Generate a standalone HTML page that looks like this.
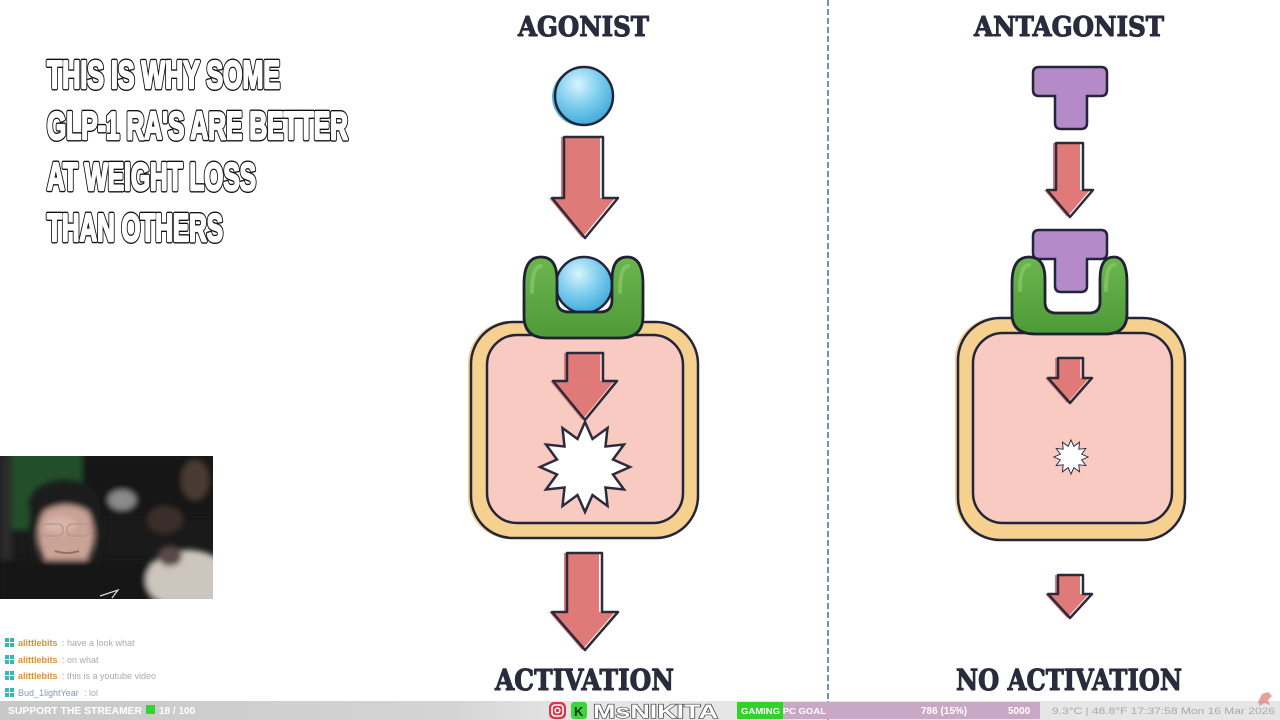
<!DOCTYPE html>
<html><head><meta charset="utf-8"><style>
html,body{margin:0;padding:0;background:#fff;width:1280px;height:720px;overflow:hidden}
svg{display:block}
</style></head><body>
<svg width="1280" height="720" viewBox="0 0 1280 720" xmlns="http://www.w3.org/2000/svg">
<defs>
<radialGradient id="ball" cx="0.4" cy="0.3" r="0.75">
<stop offset="0" stop-color="#d8f4fd"/><stop offset="0.5" stop-color="#7dcdee"/><stop offset="1" stop-color="#3aa6d6"/>
</radialGradient>
<linearGradient id="grn" x1="0" y1="0" x2="0" y2="1">
<stop offset="0" stop-color="#6cb64e"/><stop offset="1" stop-color="#4d9a38"/>
</linearGradient>
<linearGradient id="bar" x1="0" y1="0" x2="1" y2="0">
<stop offset="0" stop-color="#c8c8c8"/><stop offset="0.35" stop-color="#d4d4d4"/><stop offset="0.45" stop-color="#e6e6e6"/><stop offset="1" stop-color="#e6e6e6"/>
</linearGradient>
<filter id="blur" x="-10%" y="-10%" width="120%" height="120%"><feGaussianBlur stdDeviation="3"/></filter>
<clipPath id="cam"><rect x="0" y="456" width="213" height="143"/></clipPath>
</defs>

<!-- divider -->
<line x1="828" y1="0" x2="828" y2="701" stroke="#6e93b3" stroke-width="2" stroke-dasharray="6,3"/>

<!-- left headline: black outline layer -->
<g font-family="Liberation Sans, DejaVu Sans, sans-serif" font-weight="bold" font-size="39" fill="#111" stroke="#111" stroke-width="5" stroke-linejoin="round">
<text x="47" y="88" textLength="233" lengthAdjust="spacingAndGlyphs">THIS IS WHY SOME</text>
<text x="47" y="139" textLength="301" lengthAdjust="spacingAndGlyphs">GLP-1 RA'S ARE BETTER</text>
<text x="47" y="190" textLength="209" lengthAdjust="spacingAndGlyphs">AT WEIGHT LOSS</text>
<text x="47" y="241" textLength="176" lengthAdjust="spacingAndGlyphs">THAN OTHERS</text>
</g>
<!-- white fill layer -->
<g font-family="Liberation Sans, DejaVu Sans, sans-serif" font-weight="bold" font-size="39" fill="#fff" stroke="#fff" stroke-width="2.3" stroke-linejoin="round">
<text x="47" y="88" textLength="233" lengthAdjust="spacingAndGlyphs">THIS IS WHY SOME</text>
<text x="47" y="139" textLength="301" lengthAdjust="spacingAndGlyphs">GLP-1 RA'S ARE BETTER</text>
<text x="47" y="190" textLength="209" lengthAdjust="spacingAndGlyphs">AT WEIGHT LOSS</text>
<text x="47" y="241" textLength="176" lengthAdjust="spacingAndGlyphs">THAN OTHERS</text>
</g>

<!-- titles -->
<g font-family="DejaVu Serif, Liberation Serif, serif" font-weight="bold" fill="#2b2b3d" stroke="#2b2b3d" stroke-width="1.1" stroke-linejoin="round">
<text x="518" y="36" font-size="27" textLength="131" lengthAdjust="spacingAndGlyphs">AGONIST</text>
<text x="974" y="36" font-size="27" textLength="190" lengthAdjust="spacingAndGlyphs">ANTAGONIST</text>
<text x="495" y="690" font-size="29" textLength="179" lengthAdjust="spacingAndGlyphs">ACTIVATION</text>
<text x="956" y="690" font-size="29" textLength="226" lengthAdjust="spacingAndGlyphs">NO ACTIVATION</text>
</g>

<!-- ===== AGONIST ===== -->
<circle cx="581" cy="97" r="29" fill="#56b6de"/>
<circle cx="584" cy="96" r="29" fill="url(#ball)" stroke="#23263a" stroke-width="2.5"/>
<polygon points="561,137 600,137 600,198 615,198 582,238 549,198 561,198" fill="#e07a78"/>
<polygon points="564,137 603,137 603,198 618,198 585,238 552,198 564,198" fill="none" stroke="#2b2b3b" stroke-width="2.5" stroke-linejoin="round"/>

<rect x="468" y="321" width="229" height="218" rx="42" fill="#f6d08e"/>
<rect x="471" y="322" width="227" height="216" rx="42" fill="none" stroke="#23263a" stroke-width="2.5"/>
<rect x="487" y="335" width="196" height="188" rx="30" fill="#f8cac1" stroke="#23263a" stroke-width="2.5"/>

<circle cx="584" cy="285" r="28" fill="url(#ball)" stroke="#23263a" stroke-width="2.5"/>
<path d="M524 284 Q524 257 541 257 Q557 257 557 280 L557 300 Q557 312 569 312 L600 312 Q612 312 612 300 L612 280 Q612 257 627 257 Q643 257 643 284 L643 316 Q643 338 620 338 L547 338 Q524 338 524 316 Z" fill="url(#grn)" stroke="#1f2233" stroke-width="2.8" stroke-linejoin="round"/>
<path d="M532 292 Q532 266 541 266" fill="none" stroke="#8cc86a" stroke-width="4" stroke-linecap="round" opacity="0.7"/>
<path d="M620 292 Q620 266 628 266" fill="none" stroke="#8cc86a" stroke-width="4" stroke-linecap="round" opacity="0.7"/>

<polygon points="564,353 600,353 600,381 614,381 582,420 550,381 564,381" fill="#e07a78"/>
<polygon points="567,353 603,353 603,381 617,381 585,420 553,381 567,381" fill="none" stroke="#2b2b3b" stroke-width="2.5" stroke-linejoin="round"/>

<polygon id="star" points="585,422 592.5,439 607.5,428 605.5,446.5 624,444.5 613,459.5 630,467 613,474.5 624,489.5 605.5,487.5 607.5,506 592.5,495 585,512 577.5,495 562.5,506 564.5,487.5 546,489.5 557,474.5 540,467 557,459.5 546,444.5 564.5,446.5 562.5,428 577.5,439" fill="#fff" stroke="#2b2b3b" stroke-width="2.5" stroke-linejoin="miter"/>

<polygon points="564,553 599,553 599,612 615,612 582,650 549,612 564,612" fill="#e07a78"/>
<polygon points="567,553 602,553 602,612 618,612 585,650 552,612 567,612" fill="none" stroke="#2b2b3b" stroke-width="2.5" stroke-linejoin="round"/>

<!-- ===== ANTAGONIST ===== -->
<path d="M1039 67 L1101 67 Q1107 67 1107 73 L1107 90 Q1107 96 1101 96 L1087 96 L1087 123 Q1087 129 1081 129 L1061 129 Q1055 129 1055 123 L1055 96 L1039 96 Q1033 96 1033 90 L1033 73 Q1033 67 1039 67 Z" fill="#b58ac9" stroke="#23263a" stroke-width="2.5"/>
<polygon points="1053,143 1080,143 1080,190 1090,190 1067,217 1044,190 1053,190" fill="#e07a78"/>
<polygon points="1056,143 1083,143 1083,190 1093,190 1070,217 1047,190 1056,190" fill="none" stroke="#2b2b3b" stroke-width="2.5" stroke-linejoin="round"/>

<rect x="955" y="317" width="230" height="223" rx="42" fill="#f6d08e"/>
<rect x="958" y="318" width="227" height="222" rx="42" fill="none" stroke="#23263a" stroke-width="2.5"/>
<rect x="973" y="333" width="199" height="190" rx="30" fill="#f8cac1" stroke="#23263a" stroke-width="2.5"/>

<path d="M1039 230 L1101 230 Q1107 230 1107 236 L1107 253 Q1107 259 1101 259 L1087 259 L1087 286 Q1087 292 1081 292 L1061 292 Q1055 292 1055 286 L1055 259 L1039 259 Q1033 259 1033 253 L1033 236 Q1033 230 1039 230 Z" fill="#b58ac9" stroke="#23263a" stroke-width="2.5"/>
<path d="M1012 283 Q1012 257 1029 257 Q1045 257 1045 279 L1045 302 Q1045 313 1056 313 L1089 313 Q1100 313 1100 302 L1100 279 Q1100 257 1114 257 Q1127 257 1127 283 L1127 314 Q1127 334 1105 334 L1035 334 Q1012 334 1012 314 Z" fill="url(#grn)" stroke="#1f2233" stroke-width="2.8" stroke-linejoin="round"/>
<path d="M1020 290 Q1020 265 1029 265" fill="none" stroke="#8cc86a" stroke-width="4" stroke-linecap="round" opacity="0.7"/>
<path d="M1106 290 Q1106 265 1114 265" fill="none" stroke="#8cc86a" stroke-width="4" stroke-linecap="round" opacity="0.7"/>

<polygon points="1055,358 1080,358 1080,378 1089,378 1067,403 1045,378 1055,378" fill="#e07a78"/>
<polygon points="1058,358 1083,358 1083,378 1092,378 1070,403 1048,378 1058,378" fill="none" stroke="#2b2b3b" stroke-width="2.5" stroke-linejoin="round"/>

<use href="#star" transform="translate(1071,457) scale(0.38) translate(-585,-467)" stroke-width="6"/>

<polygon points="1055,575 1080,575 1080,594 1089,594 1067,618 1045,594 1055,594" fill="#e07a78"/>
<polygon points="1058,575 1083,575 1083,594 1092,594 1070,618 1048,594 1058,594" fill="none" stroke="#2b2b3b" stroke-width="2.5" stroke-linejoin="round"/>

<!-- ===== webcam ===== -->
<g clip-path="url(#cam)">
<rect x="0" y="456" width="213" height="143" fill="#1a1a1a"/>
<g filter="url(#blur)">
<rect x="10" y="450" width="72" height="80" fill="#24502b"/>
<rect x="0" y="456" width="12" height="143" fill="#2a2a2a"/>
<rect x="82" y="456" width="131" height="60" fill="#121212"/>
<ellipse cx="122" cy="500" rx="14" ry="10" fill="#8a8a8a"/>
<ellipse cx="165" cy="520" rx="18" ry="14" fill="#3a2e2a"/>
<ellipse cx="195" cy="480" rx="14" ry="20" fill="#4a3a32"/>
<ellipse cx="64" cy="505" rx="36" ry="26" fill="#1c1c1c"/>
<ellipse cx="66" cy="535" rx="28" ry="38" fill="#c9a395"/>
<ellipse cx="60" cy="525" rx="16" ry="8" fill="#d8b6ac"/>
<path d="M28 530 Q32 482 66 480 Q100 482 104 530 L98 565 L94 515 Q66 495 38 515 L34 565 Z" fill="#1e1c1c"/>
<rect x="0" y="560" width="155" height="45" fill="#121212"/>
<ellipse cx="188" cy="580" rx="42" ry="30" fill="#cdc6be"/>
<ellipse cx="170" cy="556" rx="12" ry="10" fill="#5a4a44"/>
</g>
<rect x="41" y="524" width="22" height="12" rx="5" fill="none" stroke="#b89a86" stroke-width="1.5"/>
<rect x="67" y="524" width="22" height="12" rx="5" fill="none" stroke="#b89a86" stroke-width="1.5"/>
<path d="M55 551 Q67 555 79 551" stroke="#9a6e66" stroke-width="2" fill="none"/>
<path d="M100 596 L118 590 L112 598" stroke="#ddd" stroke-width="1.2" fill="none"/>
</g>

<!-- chat -->
<g font-family="Liberation Sans, DejaVu Sans, sans-serif" font-size="9">
<g fill="#35b8b0">
<rect x="5" y="638" width="4" height="4"/><rect x="10" y="638" width="4" height="4"/><rect x="5" y="643" width="4" height="4"/><rect x="10" y="643" width="4" height="4"/>
<rect x="5" y="655" width="4" height="4"/><rect x="10" y="655" width="4" height="4"/><rect x="5" y="660" width="4" height="4"/><rect x="10" y="660" width="4" height="4"/>
<rect x="5" y="671" width="4" height="4"/><rect x="10" y="671" width="4" height="4"/><rect x="5" y="676" width="4" height="4"/><rect x="10" y="676" width="4" height="4"/>
<rect x="5" y="688" width="4" height="4"/><rect x="10" y="688" width="4" height="4"/><rect x="5" y="693" width="4" height="4"/><rect x="10" y="693" width="4" height="4"/>
</g>
<text x="18" y="646" fill="#d8912c" font-weight="bold">alittlebits</text><text x="62" y="646" fill="#aaaaaa">: have a look what</text>
<text x="18" y="663" fill="#d8912c" font-weight="bold">alittlebits</text><text x="62" y="663" fill="#aaaaaa">: on what</text>
<text x="18" y="679" fill="#d8912c" font-weight="bold">alittlebits</text><text x="62" y="679" fill="#aaaaaa">: this is a youtube video</text>
<text x="18" y="696" fill="#8796c0">Bud_1lightYear</text><text x="84" y="696" fill="#aaaaaa">: lol</text>
</g>

<!-- bottom bar -->
<rect x="0" y="701" width="1280" height="19" fill="url(#bar)"/>
<line x1="828" y1="701" x2="828" y2="720" stroke="#6e93b3" stroke-width="1.5"/>
<g font-family="Liberation Sans, DejaVu Sans, sans-serif" font-weight="bold">
<text x="8" y="714" font-size="10" fill="#fff" textLength="134" lengthAdjust="spacingAndGlyphs">SUPPORT THE STREAMER</text>
<rect x="146" y="705" width="9" height="9" fill="#2ed62e"/>
<text x="159" y="714" font-size="10" fill="#fff">18 / 100</text>

<rect x="549" y="702" width="17" height="17" rx="5" fill="#d8384a"/>
<rect x="552" y="705" width="11" height="11" rx="3" fill="none" stroke="#fff" stroke-width="1.6"/>
<circle cx="557.5" cy="710.5" r="2.4" fill="none" stroke="#fff" stroke-width="1.4"/>
<rect x="571" y="702" width="16" height="17" rx="3" fill="#3ed43a"/>
<text x="574" y="716" font-size="13" fill="#0a3a0a">K</text>
<text x="593" y="718" font-size="19" fill="#fff" stroke="#444" stroke-width="1.2" paint-order="stroke" textLength="125" lengthAdjust="spacingAndGlyphs">MsNIKITA</text>

<rect x="737" y="702" width="303" height="17" fill="#c9a8c6"/>
<rect x="737" y="702" width="46" height="17" fill="#34d02e"/>
<text x="741" y="714" font-size="8.5" fill="#fff" textLength="85" lengthAdjust="spacingAndGlyphs">GAMING PC GOAL</text>
<text x="921" y="714" font-size="10" fill="#fff">786 (15%)</text>
<text x="1008" y="714" font-size="10" fill="#fff">5000</text>
</g>
<text x="1052" y="714" font-family="Liberation Sans, DejaVu Sans, sans-serif" font-size="9.5" fill="#a8a8a8" textLength="223" lengthAdjust="spacingAndGlyphs">9.3°C | 48.8°F   17:37:58   Mon 16 Mar 2026</text>
<path d="M1258 702 L1262 694 L1268 692 L1272 696 L1268 700 L1270 705 L1264 703 L1260 706 Z" fill="#e08a84" opacity="0.8"/>
</svg>
</body></html>
